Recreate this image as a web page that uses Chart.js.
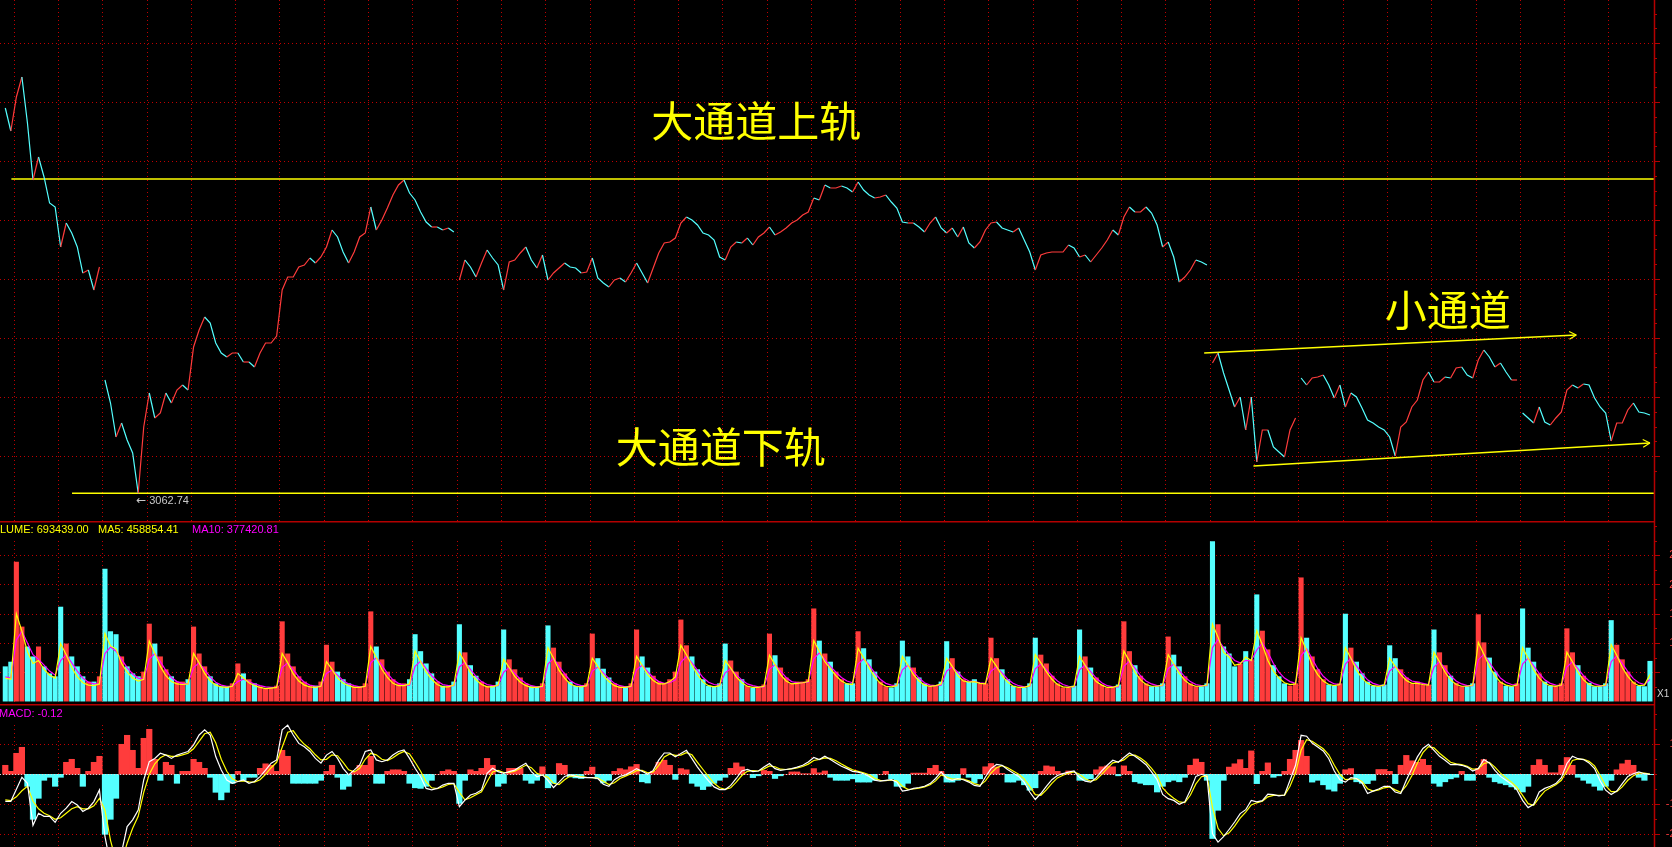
<!DOCTYPE html>
<html>
<head>
<meta charset="utf-8">
<title>5分钟走势 大通道 / 小通道</title>
<script src="https://cdn.jsdelivr.net/npm/chart.js@4.4.1/dist/chart.umd.min.js"></script>
<style>
  html, body { margin: 0; padding: 0; background: #000; overflow: hidden; }
  #board { position: relative; width: 1672px; height: 847px; background: #000; }
  #board canvas { position: absolute; left: 0; }
</style>
</head>
<body>
<div id="board">
  <canvas id="chart-price" width="1672" height="521" style="top:0"></canvas>
  <canvas id="chart-volume" width="1672" height="183" style="top:521px"></canvas>
  <canvas id="chart-macd" width="1672" height="143" style="top:704px"></canvas>
</div>
<script>
// ===================================================================
// Data (8 bars per trading day)
// ===================================================================

const PARTIAL_BARS = 2;   // tail of the session before the first grid line
const BARS_PER_DAY = 8;
const DAYS = 37;

// close price per bar
const closePrice = [
  3448, 3425,
  3459, 3479, 3433, 3376, 3399, 3379, 3353, 3349,
  3309, 3333, 3323, 3309, 3283, 3286, 3266, 3289,
  3176, 3153, 3119, 3133, 3116, 3103, 3062.74, 3129,
  3163, 3138, 3143, 3163, 3153, 3166, 3171, 3166,
  3209, 3226, 3239, 3233, 3213, 3203, 3199, 3203,
  3203, 3194, 3194, 3189, 3203, 3213, 3213, 3220,
  3266, 3279, 3279, 3289, 3291, 3298, 3293, 3299,
  3309, 3326, 3319, 3304, 3293, 3304, 3319, 3323,
  3349, 3326, 3336, 3348, 3361, 3371, 3376, 3363,
  3356, 3344, 3334, 3329, 3329, 3326, 3328, 3324,
  3276, 3296, 3289, 3279, 3293, 3306, 3298, 3291,
  3266, 3294, 3296, 3303, 3309, 3296, 3288, 3301,
  3276, 3283, 3288, 3293, 3289, 3288, 3283, 3284,
  3298, 3278, 3273, 3269, 3276, 3278, 3274, 3283,
  3293, 3283, 3273, 3288, 3303, 3313, 3314, 3318,
  3333, 3339, 3336, 3331, 3323, 3321, 3316, 3299,
  3296, 3309, 3314, 3313, 3318, 3311, 3319, 3323,
  3329, 3321, 3324, 3328, 3333, 3336, 3341, 3344,
  3358, 3356, 3371, 3368, 3368, 3370, 3368, 3364,
  3374, 3366, 3361, 3358, 3359, 3361, 3354, 3348,
  3334, 3333, 3333, 3329, 3324, 3333, 3339, 3328,
  3323, 3328, 3319, 3329, 3313, 3308, 3314, 3326,
  3333, 3334, 3328, 3326, 3324, 3328, 3316, 3304,
  3286, 3301, 3303, 3304, 3304, 3304, 3311, 3308,
  3299, 3301, 3294, 3301, 3308, 3316, 3326, 3321,
  3339, 3349, 3344, 3344, 3349, 3343, 3331, 3309,
  3314, 3299, 3274, 3279, 3286, 3296, 3294, 3291,
  3193, 3203, 3183, 3166, 3149, 3159, 3126, 3159,
  3094, 3126, 3126, 3109, 3104, 3099, 3126, 3138,
  3178, 3171, 3178, 3179, 3181, 3171, 3158, 3171,
  3149, 3163, 3159, 3148, 3136, 3133, 3129, 3126,
  3119, 3100, 3129, 3134, 3149, 3156, 3176, 3184,
  3174, 3174, 3179, 3178, 3188, 3189, 3181, 3178,
  3196, 3206, 3199, 3189, 3193, 3184, 3176, 3176,
  3143, 3138, 3133, 3149, 3134, 3131, 3138, 3144,
  3166, 3171, 3168, 3172, 3171, 3158, 3149, 3143,
  3115, 3133, 3133, 3146, 3153, 3144, 3143, 3141
];

// days whose opening is not joined to the previous close
const gapDays = [3, 11, 28, 30, 35];

// volume per bar, in 万 (10k)
const volume = [
  60, 68,
  239, 128, 94, 77, 94, 60, 48, 43,
  162, 99, 77, 60, 43, 34, 34, 43,
  227, 120, 115, 77, 60, 48, 43, 51,
  133, 99, 77, 55, 43, 34, 34, 38,
  128, 82, 60, 43, 31, 26, 26, 31,
  65, 48, 38, 31, 26, 22, 24, 27,
  137, 82, 60, 43, 34, 27, 27, 34,
  97, 68, 51, 38, 31, 26, 26, 31,
  154, 94, 72, 51, 38, 31, 31, 38,
  115, 86, 65, 48, 34, 27, 27, 34,
  132, 84, 62, 44, 34, 27, 27, 34,
  123, 72, 55, 41, 31, 26, 26, 31,
  130, 92, 68, 48, 34, 27, 26, 31,
  116, 74, 56, 41, 31, 26, 26, 31,
  123, 77, 58, 44, 34, 31, 38, 51,
  140, 96, 77, 55, 38, 27, 26, 31,
  99, 70, 51, 38, 27, 24, 24, 29,
  116, 79, 58, 41, 31, 34, 34, 38,
  159, 104, 82, 68, 51, 38, 31, 31,
  120, 91, 72, 51, 34, 26, 24, 31,
  104, 77, 58, 41, 31, 26, 27, 34,
  103, 74, 51, 38, 34, 38, 31, 31,
  109, 74, 55, 38, 27, 24, 24, 31,
  109, 80, 65, 44, 31, 24, 24, 27,
  123, 77, 58, 41, 29, 24, 24, 29,
  137, 86, 62, 44, 31, 26, 26, 31,
  111, 80, 60, 43, 31, 26, 26, 31,
  274, 132, 94, 82, 60, 65, 86, 72,
  183, 121, 89, 62, 43, 31, 27, 31,
  212, 109, 77, 55, 38, 29, 27, 31,
  150, 92, 68, 48, 34, 27, 26, 29,
  96, 74, 55, 41, 31, 34, 29, 29,
  123, 84, 62, 44, 32, 26, 26, 31,
  149, 101, 75, 51, 34, 27, 26, 31,
  159, 92, 68, 48, 34, 27, 26, 31,
  125, 84, 62, 44, 32, 26, 26, 31,
  139, 97, 72, 51, 34, 27, 26, 69.3439
];

const volMA5 = [
  40, 38,
  150, 120, 85, 65, 70, 55, 45, 40,
  99, 80, 58, 42, 32, 28, 27, 30,
  116, 95, 90, 65, 50, 40, 35, 38,
  103, 82, 60, 44, 34, 30, 29, 30,
  82, 66, 48, 35, 28, 25, 24, 26,
  48, 40, 32, 27, 24, 22, 23, 24,
  82, 66, 47, 35, 28, 25, 24, 26,
  68, 55, 40, 31, 27, 24, 24, 26,
  94, 75, 55, 41, 31, 27, 27, 30,
  86, 68, 50, 38, 29, 25, 25, 28,
  84, 67, 49, 37, 29, 25, 25, 28,
  72, 58, 43, 33, 27, 24, 24, 26,
  92, 74, 53, 40, 30, 26, 25, 27,
  74, 60, 44, 34, 27, 24, 24, 26,
  77, 62, 46, 36, 30, 30, 34, 42,
  96, 80, 62, 46, 33, 27, 25, 27,
  70, 57, 42, 32, 26, 24, 24, 26,
  79, 63, 46, 35, 30, 31, 32, 34,
  104, 86, 68, 56, 44, 35, 30, 29,
  91, 75, 57, 42, 31, 26, 25, 27,
  77, 62, 46, 35, 28, 26, 27, 30,
  74, 60, 44, 35, 33, 34, 31, 30,
  74, 60, 44, 33, 26, 24, 24, 27,
  80, 66, 51, 38, 29, 25, 24, 26,
  77, 62, 46, 34, 28, 24, 24, 27,
  86, 69, 50, 37, 29, 26, 26, 28,
  80, 64, 48, 36, 29, 26, 26, 28,
  132, 110, 84, 76, 62, 64, 76, 70,
  121, 97, 70, 52, 40, 32, 29, 30,
  109, 87, 62, 46, 35, 29, 27, 29,
  92, 74, 54, 40, 31, 27, 26, 28,
  74, 60, 46, 36, 31, 31, 29, 28,
  84, 68, 50, 37, 29, 26, 26, 28,
  101, 81, 60, 44, 33, 28, 26, 28,
  92, 74, 54, 40, 31, 27, 26, 28,
  84, 68, 50, 37, 29, 26, 26, 28,
  97, 79, 58, 43, 32, 27, 28, 45.885441
];

const volMA10 = [
  42, 40,
  105, 120, 100, 80, 72, 62, 52, 45,
  70, 80, 66, 52, 40, 33, 30, 30,
  82, 93, 86, 72, 58, 47, 40, 38,
  72, 82, 68, 53, 41, 34, 31, 30,
  58, 66, 54, 42, 33, 28, 26, 26,
  34, 38, 34, 30, 27, 25, 24, 24,
  58, 66, 54, 42, 33, 28, 26, 26,
  48, 54, 45, 36, 30, 27, 25, 26,
  66, 75, 62, 48, 37, 31, 28, 28,
  60, 69, 56, 44, 35, 29, 27, 27,
  59, 67, 55, 43, 34, 29, 27, 27,
  50, 58, 48, 38, 31, 27, 25, 25,
  64, 74, 60, 47, 36, 30, 27, 27,
  52, 59, 49, 39, 31, 27, 25, 25,
  54, 62, 51, 41, 34, 31, 32, 37,
  67, 77, 66, 53, 41, 33, 29, 28,
  49, 56, 46, 37, 30, 27, 25, 25,
  55, 63, 52, 41, 34, 32, 32, 33,
  73, 83, 72, 60, 50, 41, 35, 32,
  64, 73, 62, 49, 38, 31, 28, 27,
  54, 62, 51, 40, 32, 28, 27, 28,
  52, 59, 50, 40, 35, 34, 32, 31,
  52, 59, 49, 38, 31, 27, 25, 26,
  56, 64, 55, 44, 35, 29, 26, 25,
  54, 62, 51, 40, 32, 27, 25, 25,
  60, 69, 57, 44, 35, 30, 27, 27,
  56, 64, 53, 42, 34, 29, 27, 27,
  92, 106, 92, 80, 70, 66, 70, 70,
  88, 100, 84, 65, 50, 40, 34, 31,
  78, 90, 73, 56, 43, 35, 30, 29,
  64, 74, 61, 48, 37, 31, 28, 27,
  52, 60, 51, 41, 35, 33, 31, 29,
  59, 68, 56, 44, 35, 30, 27, 27,
  71, 81, 67, 53, 40, 33, 29, 28,
  64, 74, 61, 48, 37, 31, 28, 27,
  59, 68, 56, 44, 35, 30, 27, 27,
  68, 78, 65, 51, 39, 32, 29, 37.742081
];

// MACD: DIF (white), DEA (yellow), histogram
const macdDIF = [
  -9, -9,
  -5, -1, -3, -17, -13, -14, -14, -16,
  -13, -11.3, -9.1, -10.2, -12.4, -11.3, -9.1, -5.2,
  -20.8, -30, -32, -26, -17.4, -15.2, -11.9, -1.9,
  4.2, 5.3, 7, 6.4, 5.3, 6.4, 7, 7.6,
  9.8, 13.1, 14.8, 13.1, 5.9, 1.4, -1.9, -3,
  -2.4, -1.9, -3, -2.4, -0.8, 1.4, 3.7, 4.8,
  14.8, 16.4, 13.1, 10.3, 9.2, 7.6, 5.3, 3.7,
  6.4, 7.6, 5.3, 2, -0.2, 1.4, 3.1, 7.6,
  8.1, 4.8, 4.2, 4.8, 6.4, 7.6, 8.1, 5.3,
  2, -0.8, -4.7, -5.2, -4.7, -3.6, -3, -3,
  -10.8, -8.6, -6.9, -6.3, -5.2, 0.3, 2, 0.9,
  0.3, 0.9, 1.4, 2.6, 3.7, 0.9, -0.8, -0.2,
  -2, -4.4, -2.6, -0.7, -0.1, -0.7, -1, -1.1,
  -1.1, -1.4, -3.3, -4, -1.8, -0.7, -0.2, 0.8,
  1.9, 1, 0, 1.3, 4.7, 7.1, 7.1, 5.8,
  6.9, 8, 5.2, 2.4, 0, -2.2, -4.2, -5.1,
  -5.1, -3.7, -1.4, 1.1, 1.6, 0.9, 1.1, 2.4,
  3.6, 1.9, 1.3, 1.6, 1.9, 2.4, 3, 4.1,
  5.6, 4.9, 6, 4.9, 3.8, 2.7, 1.9, 1,
  0.7, 0.2, -0.7, -2, -2.3, -2, -1.8, -2.6,
  -5.6, -5.3, -4.7, -4.4, -4, -3.1, -1.4, 0.8,
  -1.4, -2, -1.4, -1.8, -2.6, -3.7, -4, -0.9,
  1.9, 3.3, 3, 1.6, 0.4, -0.7, -2.6, -5.9,
  -8.4, -6.4, -4, -1.8, -0.4, 0.2, 0.7, 1.1,
  -1.1, -2.3, -2.6, -1.1, 1.1, 3, 4.7, 4,
  5.6, 7.1, 6, 4.7, 3.2, 0.8, -1.8, -6.7,
  -8.1, -8.7, -10, -9.2, -5.3, -0.7, 0, -0.7,
  -19.8, -22.6, -20.8, -18.4, -15.9, -13.1, -11.8, -8.7,
  -9.2, -8.8, -6.6, -6.8, -7.2, -6.9, -2, 3,
  13, 12.7, 10.4, 9.1, 7.8, 5.2, 1.1, -1.8,
  -2.6, -1.1, -1.4, -2.9, -6.4, -5.6, -4.9, -4,
  -4, -5.9, -6.4, -2, 1.9, 5.8, 8.6, 10,
  8, 6, 4.7, 3.2, 3.3, 3, 2.4, 1.1,
  1.9, 4.9, 3.8, 1.3, -0.7, -2, -3.3, -5.3,
  -8.7, -11.1, -10, -5.9, -4.7, -4, -3.1, -1.1,
  3.6, 6, 5.2, 4.9, 3.8, 1.9, -2.2, -5.3,
  -6.7, -5.6, -3.1, -0.7, 0.2, 0.8, 0.2, 0
];

const macdDEA = [
  -8.5, -8.8,
  -7.5, -5.5, -4, -9, -11.5, -13, -13.8, -15,
  -14.5, -13, -11.5, -10.8, -11.5, -11.5, -10.5, -8,
  -12, -22, -29, -29, -23, -18, -14, -6,
  0, 3.5, 5.5, 6.5, 6, 6, 6.5, 7,
  8.5, 11, 13.5, 14, 10.5, 5, 1, -1.5,
  -2.4, -2.2, -2.5, -2.6, -1.8, 0, 2.2, 4,
  9, 14, 14.5, 12, 10, 8.5, 6.5, 4.8,
  5, 6.5, 6.2, 4, 1.5, 0.8, 2, 5,
  7, 6.5, 5, 4.6, 5.5, 6.8, 7.6, 6.8,
  4, 1, -2.5, -4.5, -4.8, -4.2, -3.4, -3.1,
  -6, -8.5, -7.8, -6.8, -5.8, -2.5, 0.8, 1.3,
  0.6, 0.6, 1, 2, 3, 2.2, 0.3, -0.3,
  -1, -3, -3.4, -1.8, -0.6, -0.5, -0.8, -1,
  -1.1, -1.3, -2.3, -3.4, -2.8, -1.4, -0.6, 0.2,
  1.2, 1.3, 0.5, 0.8, 3, 5.8, 6.8, 6.3,
  6.4, 7.2, 6.5, 4, 1.6, -0.8, -3, -4.5,
  -5, -4.5, -2.6, -0.4, 1, 1.2, 1.1, 1.8,
  2.8, 2.5, 1.7, 1.6, 1.8, 2.1, 2.6, 3.4,
  4.6, 5, 5.5, 5.3, 4.5, 3.4, 2.4, 1.5,
  1, 0.5, -0.2, -1.3, -2, -2.1, -1.9, -2.2,
  -4, -5, -4.9, -4.6, -4.2, -3.5, -2.2, -0.2,
  -0.9, -1.6, -1.5, -1.6, -2.2, -3.1, -3.7, -2.2,
  0.4, 2.2, 2.9, 2.2, 1.1, 0, -1.5, -4,
  -6.8, -7, -5.2, -3, -1.2, -0.3, 0.4, 0.8,
  0, -1.5, -2.3, -1.8, 0, 2, 3.8, 4.2,
  4.8, 6.3, 6.4, 5.4, 4, 2, -0.4, -4.5,
  -6.5, -8, -9.2, -9.4, -7, -3.2, -0.8, -0.5,
  -11, -18, -20.5, -19.5, -17.3, -14.6, -12.6, -10.2,
  -9.5, -9, -7.5, -7, -7, -7, -4, 0.5,
  8, 11.5, 11, 9.8, 8.5, 6.5, 3, 0,
  -1.8, -1.6, -1.4, -2.4, -4.8, -5.6, -5.2, -4.5,
  -4.2, -5.2, -6, -3.8, -0.5, 3.8, 7.2, 9.2,
  8.8, 7, 5.5, 4, 3.5, 3.2, 2.7, 1.7,
  1.8, 3.6, 4, 2.4, 0.4, -1.2, -2.6, -4.4,
  -7, -9.8, -10.3, -7.8, -5.6, -4.5, -3.5, -2,
  1.2, 4.6, 5.1, 5, 4.3, 2.8, -0.4, -3.8,
  -5.8, -5.8, -4.2, -2, -0.5, 0.4, 0.4, 0.1
];

const macdHist = [
  3, 1,
  7, 9, -4, -15, -8, -2, -1, -4,
  -1, 4, 5, 2, -4, 1, 4, 6,
  -20, -15, -8, 10, 13, 8, 2, 12,
  15, 5, -2, 4, 3, -3, 1, 1,
  5, 4, 2, -1, -6, -8.5, -6, -3,
  1, -2, -1, -1, 2, 3.5, 3, 1,
  8, 6, -3, -3, -3, -3, -3, -2,
  1, 3, -1, -5, -4, 1, 3, 3,
  6, -3, -3, 1, 1.5, 1.5, 1, -3,
  -4.5, -4.7, -4, -2, 0, 1, 1.5, 1,
  -9.7, -2, 1.5, 1, 2, 5.3, 3, -4,
  -3, 2, 2, 2, -2, -3, -2, 2.5,
  -4.5, -3, 3.6, 3, -0.9, -1.2, -1.4, 1,
  2.4, -1.5, -2.9, -2, 1, 1.9, 1.5, 2.5,
  3.3, -2.5, -2.9, 1, 4, 4.7, 3, -1.7,
  1.9, 1.5, -3, -4, -5.1, -4, -3, -2,
  -1, 2, 3.8, 2.5, 0, -1.1, -0.5, 1.3,
  1, -1.4, -0.5, 0, 0.8, 0.8, 0.2, 0.2,
  1.9, 0.5, 1.1, -1, -2, -2, -2, -1.5,
  -2.6, -2.6, -2.6, -2, 0, 1, -1.5, -4,
  -4.2, -3, 0.4, 0.4, 0.4, 2, 3, 1,
  -2.6, -2.6, -2, 1.9, -1, -2.9, -1.5, 2.5,
  3.6, 2.5, 0.3, -2.6, -2.6, -2, -3.5, -5.3,
  -4.5, 1, 2.8, 2.5, 1, 0.3, 1.1, 0,
  -2, -2, -1.5, 1.5, 2.5, 2.8, 2.5, -0.5,
  2.8, 1, -2.5, -3, -3.5, -3.5, -5.9, -4,
  -2.5, -2, -2.5, -1, 3, 5.1, 4, -2,
  -21.4, -12, -2, 2.4, 3.5, 4.9, 2, 7.8,
  -3.1, 1, 3.8, -1, -0.5, 1, 5, 8,
  11.3, 6, -2.6, -2, -3.5, -5, -5.6, -3,
  1.5, 1.9, -2.5, -3, -3.1, -2, 1.6, 1.6,
  1, -3.1, 3, 6.3, 4.5, 4, 5, 3,
  -3, -4, -2.5, -1.5, -1, 1, -2, -2,
  2, 4.9, -1, -2.5, -3, -3.5, -4.2, -5,
  -5.9, -4, 3, 4.9, 3, 0.5, 0.5, 3,
  5.6, 3, -1, -2, -3, -4, -5.3, -4,
  -2, 1.5, 3.5, 4.7, 3, -1, -2, -0.12
];

// channel rails: [bar position, price]
const bigUpperRail   = [[-0.4, 3377], [296.2, 3377]];
const bigLowerRail   = [[10.55, 3062.74], [296.2, 3062.74]];
const smallUpperRail = [[215.0, 3203], [282.2, 3221]];
const smallLowerRail = [[223.9, 3090], [295.5, 3113]];

// chart annotations: [text, bar position, price]
const notes = [
  ['大通道上轨', 134.1, 3435],
  ['大通道下轨', 127.7, 3108.5],
  ['小通道', 259.0, 3246]
];

// axis grid values
const priceGrid = [3100, 3159, 3218, 3277, 3336, 3395, 3454, 3513];
const volumeGrid = [50, 100, 150, 200, 250];
const macdGrid = [10, -10, -20];

// ===================================================================
// Layout / style
// ===================================================================

const RED = '#ff3c3c';
const CYAN = '#54ffff';
const YELLOW = '#ffff00';
const MAGENTA = '#ff00ff';
const GRID_RED = '#c00000';
const AXIS_RED = '#b40000';
const PLOT_RIGHT = 1654;
const X_MIN = -2.456;
const X_MAX = 296.23;
const LABEL_FONT = '11px "Liberation Sans", Arial, sans-serif';

const barX = i => i - PARTIAL_BARS + 0.5;
const dayBreaks = Array.from({ length: DAYS }, (_, k) => k * BARS_PER_DAY);
const gapBars = gapDays.map(d => PARTIAL_BARS + (d - 1) * BARS_PER_DAY);
const toPoints = arr => arr.map((v, i) => ({ x: barX(i), y: v }));
const upColor = i => (i > 0 && closePrice[i] >= closePrice[i - 1]) ? RED : CYAN;

function baseOptions(yMin, yMax) {
  return {
    responsive: false,
    animation: false,
    events: [],
    layout: { padding: { left: 0, top: 0, bottom: 0, right: 1672 - PLOT_RIGHT } },
    plugins: { legend: { display: false }, tooltip: { enabled: false } },
    scales: {
      x: { type: 'linear', min: X_MIN, max: X_MAX, display: false, offset: false, grid: { offset: false } },
      y: { type: 'linear', min: yMin, max: yMax, display: false }
    }
  };
}

// dotted grid + right axis, shared by the three panels
function panelPlugin(cfg) {
  return {
    id: 'panel',
    beforeDatasetsDraw(chart) {
      const { ctx, scales: { x, y } } = chart;
      ctx.save();
      ctx.strokeStyle = GRID_RED;
      ctx.lineWidth = 1;
      ctx.setLineDash([1, 3]);
      ctx.beginPath();
      for (const v of cfg.grid) {
        const py = Math.round(y.getPixelForValue(v)) + 0.5;
        ctx.moveTo(0, py);
        ctx.lineTo(PLOT_RIGHT, py);
      }
      for (const d of dayBreaks) {
        const px = Math.round(x.getPixelForValue(d)) + 0.5;
        ctx.moveTo(px, cfg.gridTop);
        ctx.lineTo(px, chart.height);
      }
      ctx.stroke();
      ctx.restore();
    },
    afterDraw(chart) {
      const { ctx, scales: { y } } = chart;
      ctx.save();
      ctx.strokeStyle = AXIS_RED;
      ctx.lineWidth = 1.5;
      ctx.beginPath();
      ctx.moveTo(PLOT_RIGHT + 0.5, 0);
      ctx.lineTo(PLOT_RIGHT + 0.5, chart.height);
      if (cfg.topRule) {
        ctx.moveTo(0, 0.75);
        ctx.lineTo(PLOT_RIGHT, 0.75);
      }
      ctx.stroke();

      ctx.lineWidth = 1;
      ctx.beginPath();
      for (const v of cfg.grid) {
        const py = Math.round(y.getPixelForValue(v)) + 0.5;
        ctx.moveTo(PLOT_RIGHT, py);
        ctx.lineTo(PLOT_RIGHT + 6, py);
      }
      for (const v of cfg.minor) {
        const py = Math.round(y.getPixelForValue(v)) + 0.5;
        if (py < 2 || py > chart.height - 1) continue;
        ctx.moveTo(PLOT_RIGHT, py);
        ctx.lineTo(PLOT_RIGHT + 3, py);
      }
      ctx.stroke();

      if (cfg.axisLabel) {
        ctx.fillStyle = RED;
        ctx.font = LABEL_FONT;
        ctx.textAlign = 'right';
        ctx.textBaseline = 'middle';
        for (const v of cfg.grid) {
          ctx.fillText(cfg.axisLabel(v), cfg.labelRight, y.getPixelForValue(v));
        }
      }
      if (cfg.extra) cfg.extra(chart);
      ctx.restore();
    }
  };
}

const range = (from, to, step) => {
  const out = [];
  for (let v = from; v <= to + 1e-9; v += step) out.push(v);
  return out;
};

// ===================================================================
// Price panel
// ===================================================================

const arrowHeads = {
  id: 'arrowHeads',
  afterDatasetsDraw(chart) {
    const ctx = chart.ctx;
    chart.data.datasets.forEach((ds, di) => {
      if (!ds.arrow) return;
      const pts = chart.getDatasetMeta(di).data;
      const a = pts[pts.length - 2];
      const b = pts[pts.length - 1];
      const ang = Math.atan2(b.y - a.y, b.x - a.x);
      ctx.save();
      ctx.strokeStyle = YELLOW;
      ctx.lineWidth = 1.2;
      ctx.beginPath();
      for (const s of [-1, 1]) {
        ctx.moveTo(b.x, b.y);
        ctx.lineTo(b.x - 8 * Math.cos(ang + s * 0.5), b.y - 8 * Math.sin(ang + s * 0.5));
      }
      ctx.stroke();
      ctx.restore();
    });
  }
};

function drawPriceNotes(chart) {
  const { ctx, scales: { x, y } } = chart;
  ctx.fillStyle = YELLOW;
  ctx.font = '42px "Noto Sans CJK SC", sans-serif';
  ctx.textAlign = 'center';
  ctx.textBaseline = 'middle';
  for (const [text, u, p] of notes) {
    ctx.fillText(text, x.getPixelForValue(u), y.getPixelForValue(p));
  }

  // lowest close marker
  const low = Math.min(...closePrice);
  const li = closePrice.indexOf(low);
  const lx = x.getPixelForValue(barX(li));
  const ly = y.getPixelForValue(low) + 7.5;
  ctx.fillStyle = '#c8c8c8';
  ctx.textAlign = 'left';
  ctx.font = '12px "DejaVu Sans", sans-serif';
  ctx.fillText('←', lx - 2, ly);
  ctx.font = LABEL_FONT;
  ctx.fillText(low.toFixed(2), lx + 11, ly);
}

const railDataset = (pts, arrow) => ({
  data: pts.map(([u, p]) => ({ x: u, y: p })),
  borderColor: YELLOW,
  borderWidth: 1.5,
  pointRadius: 0,
  arrow,
  order: 2
});

const priceChart = new Chart(document.getElementById('chart-price'), {
  type: 'line',
  data: {
    datasets: [
      {
        data: toPoints(closePrice),
        borderColor: RED,
        borderWidth: 1.2,
        pointRadius: 0,
        order: 1,
        segment: {
          borderColor: c => gapBars.includes(c.p1DataIndex)
            ? 'rgba(0,0,0,0)'
            : (c.p1.parsed.y >= c.p0.parsed.y ? RED : CYAN)
        }
      },
      railDataset(bigUpperRail, false),
      railDataset(bigLowerRail, false),
      railDataset(smallUpperRail, true),
      railDataset(smallLowerRail, true)
    ]
  },
  options: baseOptions(3035, 3556),
  plugins: [
    panelPlugin({ grid: priceGrid, minor: range(3085.25, 3550, 14.75), gridTop: 0, extra: drawPriceNotes }),
    arrowHeads
  ]
});

// ===================================================================
// Volume panel
// ===================================================================

function drawVolumeTitle(chart) {
  const ctx = chart.ctx;
  const last = volume.length - 1;
  ctx.font = LABEL_FONT;
  ctx.textAlign = 'left';
  ctx.textBaseline = 'middle';
  ctx.fillStyle = YELLOW;
  ctx.fillText('LUME: ' + (volume[last] * 1e4).toFixed(2), 0, 8.5);
  ctx.fillText('MA5: ' + (volMA5[last] * 1e4).toFixed(2), 98, 8.5);
  ctx.fillStyle = MAGENTA;
  ctx.fillText('MA10: ' + (volMA10[last] * 1e4).toFixed(2), 192, 8.5);

  // scale multiplier tag at the foot of the axis
  ctx.fillStyle = '#d0d0d0';
  ctx.font = '10px "Liberation Sans", Arial, sans-serif';
  ctx.fillText('X1', PLOT_RIGHT + 3, 173);
}

const volumeChart = new Chart(document.getElementById('chart-volume'), {
  type: 'bar',
  data: {
    datasets: [
      {
        type: 'line',
        data: toPoints(volMA5),
        borderColor: YELLOW,
        borderWidth: 1.2,
        pointRadius: 0,
        order: 1
      },
      {
        type: 'line',
        data: toPoints(volMA10),
        borderColor: MAGENTA,
        borderWidth: 1.2,
        pointRadius: 0,
        order: 2
      },
      {
        type: 'bar',
        data: toPoints(volume),
        backgroundColor: volume.map((_, i) => upColor(i)),
        barPercentage: 0.92,
        categoryPercentage: 1,
        order: 3
      }
    ]
  },
  options: baseOptions(-4.3, 308.5),
  plugins: [
    panelPlugin({
      grid: volumeGrid,
      minor: range(25, 300, 25),
      gridTop: 20,
      topRule: true,
      axisLabel: v => String(v * 1e4),
      labelRight: 1712,
      extra: drawVolumeTitle
    })
  ]
});

// ===================================================================
// MACD panel
// ===================================================================

function drawMacdTitle(chart) {
  const { ctx, scales: { y } } = chart;
  // dotted zero line on top of the histogram
  ctx.strokeStyle = '#d8d8d8';
  ctx.lineWidth = 1;
  ctx.setLineDash([1, 2]);
  ctx.beginPath();
  const zy = Math.round(y.getPixelForValue(0)) + 0.5;
  ctx.moveTo(0, zy);
  ctx.lineTo(PLOT_RIGHT, zy);
  ctx.stroke();
  ctx.setLineDash([]);

  ctx.font = LABEL_FONT;
  ctx.textAlign = 'left';
  ctx.textBaseline = 'middle';
  ctx.fillStyle = MAGENTA;
  ctx.fillText('MACD: ' + macdHist[macdHist.length - 1].toFixed(2), -1, 9.5);
}

const macdChart = new Chart(document.getElementById('chart-macd'), {
  type: 'bar',
  data: {
    datasets: [
      {
        type: 'line',
        data: toPoints(macdDEA),
        borderColor: YELLOW,
        borderWidth: 1.2,
        pointRadius: 0,
        order: 2
      },
      {
        type: 'line',
        data: toPoints(macdDIF),
        borderColor: '#ffffff',
        borderWidth: 1.2,
        pointRadius: 0,
        order: 1
      },
      {
        type: 'bar',
        data: toPoints(macdHist),
        backgroundColor: macdHist.map(v => v >= 0 ? RED : CYAN),
        barPercentage: 1,
        categoryPercentage: 1,
        order: 3
      }
    ]
  },
  options: baseOptions(-24.23, 23.43),
  plugins: [
    panelPlugin({
      grid: macdGrid,
      minor: range(-20, 20, 5),
      gridTop: 21,
      topRule: true,
      axisLabel: v => v.toFixed(2),
      labelRight: 1697,
      extra: drawMacdTitle
    })
  ]
});
</script>
</body>
</html>
